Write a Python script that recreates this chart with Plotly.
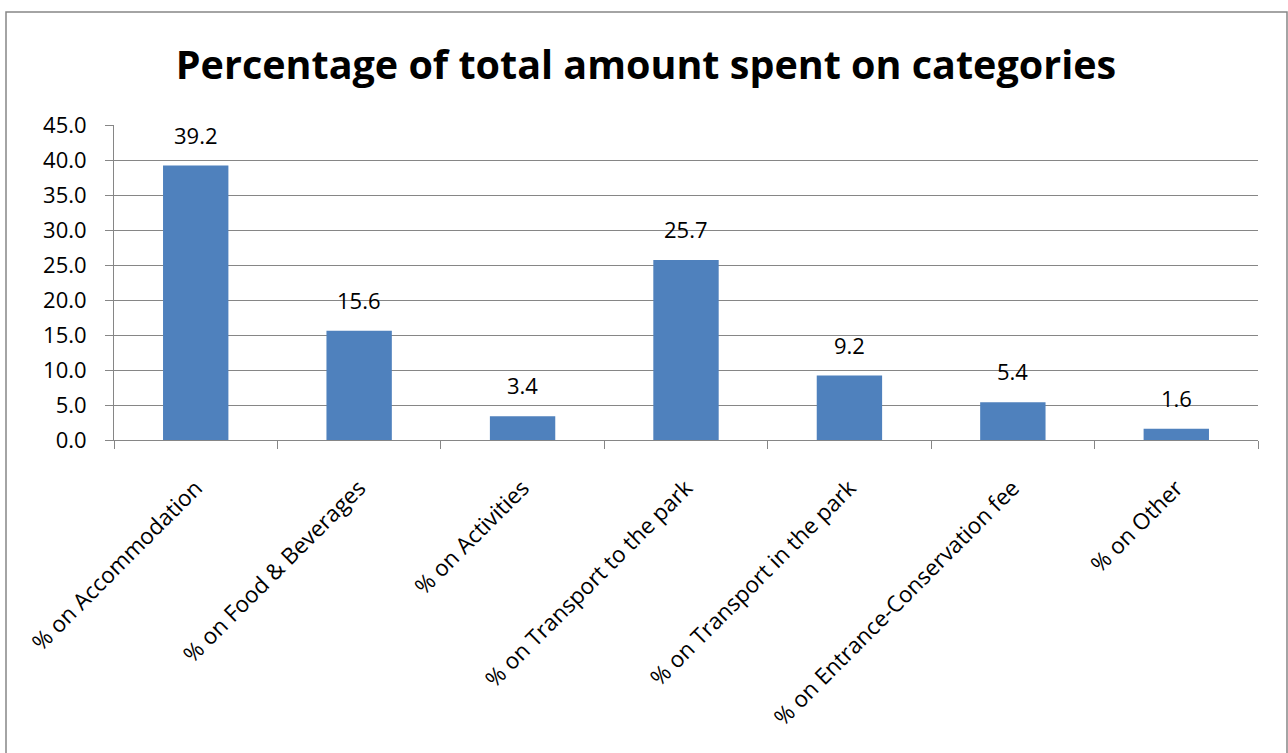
import plotly.graph_objects as go

categories = ["% on Accommodation", "% on Food & Beverages", "% on Activities",
              "% on Transport to the park", "% on Transport in the park",
              "% on Entrance-Conservation fee", "% on Other"]
values = [39.2, 15.6, 3.4, 25.7, 9.2, 5.4, 1.6]
y_ticks = [0, 5, 10, 15, 20, 25, 30, 35, 40, 45]

FONT = "Open Sans"
W, H = 1288, 753
L, R, T, B = 114, 30, 125, 313
pw, ph = W - L - R, H - T - B

def px_x(p):
    return (p - L) / pw

def px_y(p):
    return (H - B - p) / ph

fig = go.Figure()
fig.add_trace(go.Bar(x=categories, y=values, marker=dict(color="#4F81BD", line=dict(width=0)),
                     hoverinfo="x+y"))

for c, v in zip(categories, values):
    fig.add_annotation(x=c, y=v, text=f"{v:.1f}", showarrow=False, yanchor="bottom",
                       yshift=14, font=dict(family=FONT, size=22, color="black"))

fig.update_layout(
    width=W, height=H,
    margin=dict(l=L, r=R, t=T, b=B),
    paper_bgcolor="white", plot_bgcolor="white",
    showlegend=False,
    bargap=0.6,
    title=dict(text="<b>Percentage of total amount spent on categories</b>",
               x=px_x(646), xref="paper", xanchor="center",
               y=1 - 65 / H, yanchor="middle",
               font=dict(family=FONT, size=39.5, color="black")),
    font=dict(family=FONT, color="black"),
    xaxis=dict(tickangle=-45, tickson="boundaries", ticks="outside", ticklen=8,
               tickcolor="#868686", showline=True, linecolor="#868686", linewidth=1,
               ticklabelstandoff=25,
               tickfont=dict(family=FONT, size=22.5, color="black"), showgrid=False),
    yaxis=dict(range=[0, 45], tickvals=y_ticks, tickformat=".1f", ticks="outside",
               ticklen=8, tickcolor="#868686", showline=True, linecolor="#868686",
               gridcolor="#868686", gridwidth=1, zeroline=False, ticklabelstandoff=14,
               tickfont=dict(family=FONT, size=22, color="black")),
)

fig.add_shape(type="rect", xref="paper", yref="paper",
              x0=px_x(6), x1=px_x(1287), y0=px_y(770), y1=px_y(12),
              line=dict(color="#868686", width=1.5), fillcolor="rgba(0,0,0,0)", layer="below")

fig.write_html("out.html")
